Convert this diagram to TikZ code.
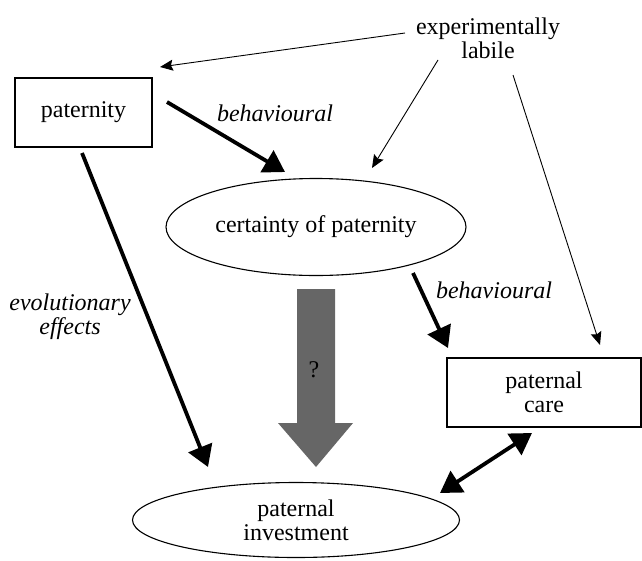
\documentclass[tikz,border=0pt]{standalone}
\usepackage{fontspec}
\setmainfont{Liberation Serif}
\usetikzlibrary{arrows.meta,shapes.geometric}
\definecolor{arrowgray}{HTML}{666666}
\tikzset{
  lbl/.style={font=\fontsize{24}{24}\selectfont, align=center, inner sep=0pt},
  ilbl/.style={lbl, font=\fontsize{24}{24}\selectfont\itshape},
  boxnode/.style={draw, line width=1.2pt, rectangle, inner sep=0pt, lbl},
  ellnode/.style={draw, line width=1.1pt, ellipse, inner sep=0pt, lbl},
  thin arrow/.style={line width=0.9pt, -{Stealth[length=13pt,width=11pt,inset=2pt]}},
  thick arrow/.style={line width=3.8pt, -{Triangle[length=21pt,width=25pt]}},
  both arrow/.style={line width=3.8pt, {Triangle[length=21pt,width=25pt]}-{Triangle[length=21pt,width=25pt]}},
}
\begin{document}
\begin{tikzpicture}[x=1pt,y=-1pt]
\useasboundingbox (0,0) rectangle (642,560);
% nodes
\node[boxnode, minimum width=137pt, minimum height=69pt] (pat) at (83.5,112.5) {paternity};
\node[lbl] (exp) at (488,38.5) {experimentally\\labile};
\node[ellnode, minimum width=300pt, minimum height=97pt] (cert) at (316,227) {certainty of paternity};
\node[boxnode, minimum width=194pt, minimum height=69pt] (care) at (544,392.5) {paternal\\care};
\node[ellnode, minimum width=327pt, minimum height=75pt] (inv) at (296,520) {paternal\\investment};
% labels
\node[ilbl] (b1) at (275,113) {behavioural};
\node[ilbl] (b2) at (494,290) {behavioural};
\node[ilbl] (evo) at (70,316.5) {evolutionary\\effects};
% big grey arrow
\fill[arrowgray] (297,289) -- (335,289) -- (335,423) -- (353,423) -- (316,467) -- (278,423) -- (297,423) -- cycle;
\node[lbl] (q) at (314,370) {?};
% connector end points
\coordinate (e1) at (405,33);  \coordinate (p1) at (160,67);
\coordinate (e2) at (438,60);  \coordinate (c1) at (372,168);
\coordinate (e3) at (513,75);  \coordinate (k1) at (600,345);
\coordinate (p2) at (167,102); \coordinate (c2) at (285,172);
\coordinate (p3) at (82,153);  \coordinate (i1) at (208,467);
\coordinate (c3) at (413,273); \coordinate (k2) at (448,348);
\coordinate (k3) at (532,433); \coordinate (i2) at (440,493);
% connectors
\draw[thin arrow] (e1) -- (p1);
\draw[thin arrow] (e2) -- (c1);
\draw[thin arrow] (e3) -- (k1);
\draw[thick arrow] (p2) -- (c2);
\draw[thick arrow] (p3) -- (i1);
\draw[thick arrow] (c3) -- (k2);
\draw[both arrow] (i2) -- (k3);
\end{tikzpicture}
\end{document}
